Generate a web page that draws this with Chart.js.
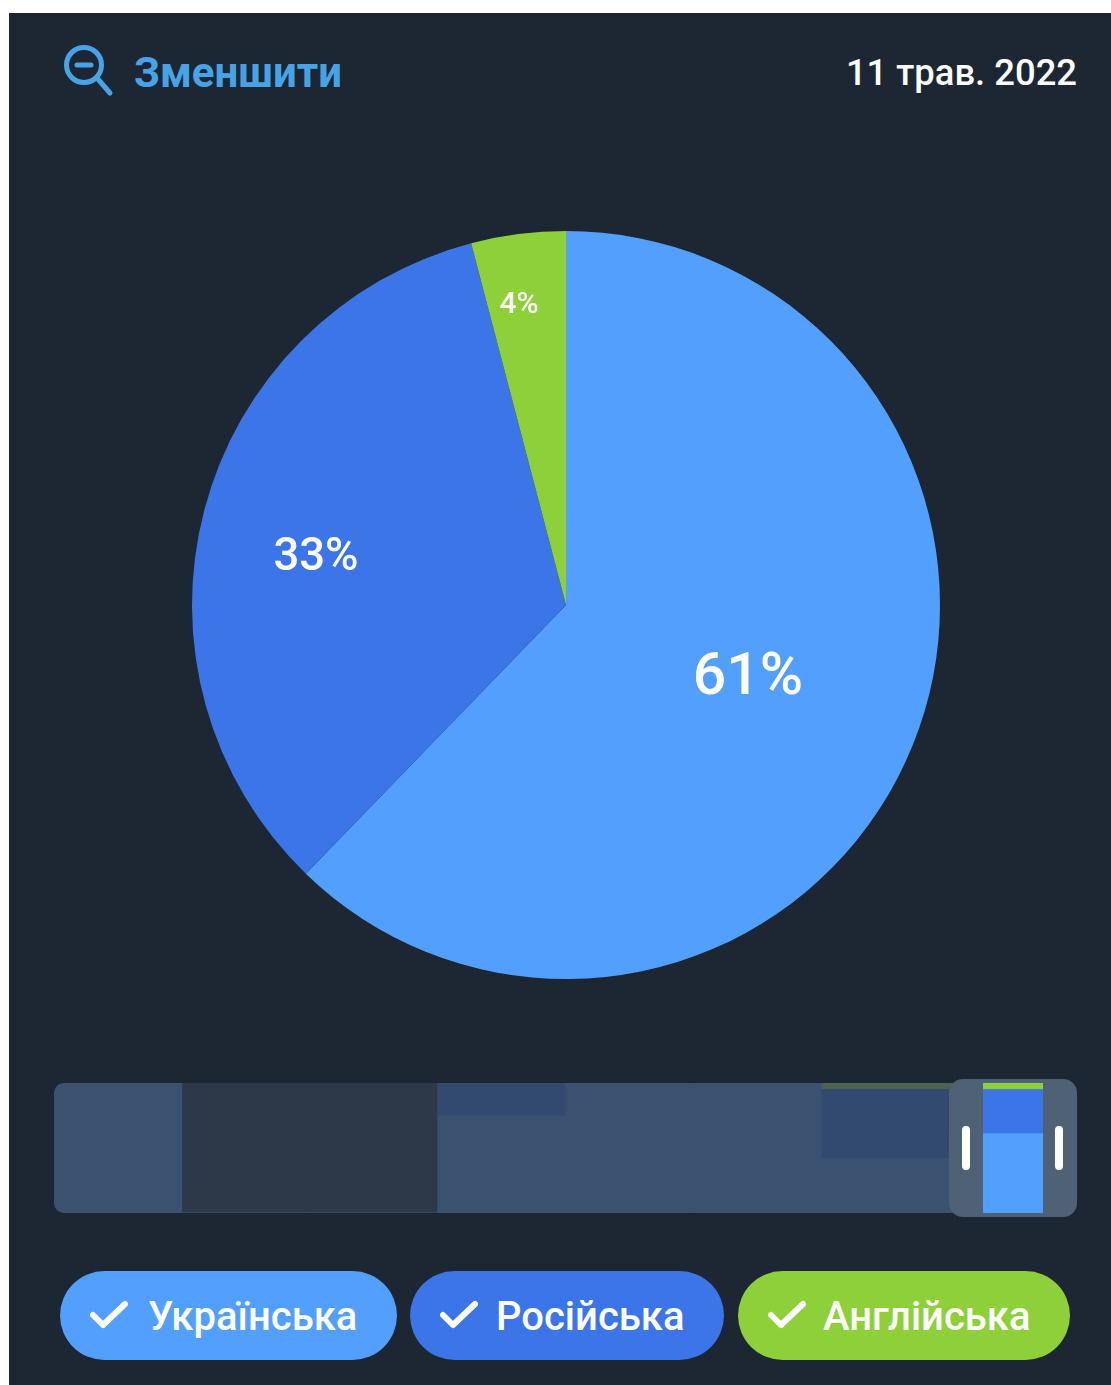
<!DOCTYPE html>
<html lang="uk">
<head>
<meta charset="utf-8">
<title>Мови</title>
<script src="https://cdn.jsdelivr.net/npm/chart.js@4"></script>
<style>
  html, body { margin: 0; padding: 0; background: #fff; }
  body { width: 1111px; height: 1385px; position: relative; overflow: hidden; font-family: Roboto, sans-serif; }
  #panel { position: absolute; left: 9px; top: 13px; width: 1102px; height: 1372px; background: #1d2733; }
  #zoomIcon { position: absolute; left: 62px; top: 43px; }
  #zoomText { position: absolute; left: 134px; top: 50px; font-size: 42px; line-height: 46px; font-weight: 700; color: #48a3e6; }
  #dateText { position: absolute; right: 34px; top: 51px; font-size: 36.4px; line-height: 44px; font-weight: 500; color: #fff; }
  #pie { position: absolute; left: 192px; top: 231px; }
  #track { position: absolute; left: 54px; top: 1083px; width: 1023px; height: 130px; background: #2d3848; border-radius: 10px; }
  #nav { position: absolute; left: 54px; top: 1083px; border-radius: 10px; }
  #selected { position: absolute; left: 983px; top: 1083px; }
  #window { position: absolute; left: 949px; top: 1079px; width: 128px; height: 138px; box-sizing: border-box;
            border: solid #4f6175; border-width: 4px 34px; border-radius: 14px; }
  .grip { position: absolute; top: 1126px; width: 8px; height: 44px; background: #fff; border-radius: 4px; }
  .chip { position: absolute; top: 1271px; height: 89px; border-radius: 45px; color: #fff; font-size: 40px; font-weight: 500; line-height: 91px; }
  .chip svg { position: absolute; left: 30px; top: 29px; }
  .chip span { position: absolute; white-space: nowrap; }
</style>
</head>
<body>
<div id="panel"></div>

<svg id="zoomIcon" width="54" height="56" viewBox="0 0 54 56" fill="none" stroke="#48a3e6" stroke-width="5" stroke-linecap="round">
  <circle cx="22" cy="22" r="17.5"/>
  <line x1="15" y1="22" x2="29" y2="22"/>
  <line x1="35" y1="35" x2="48" y2="50"/>
</svg>
<div id="zoomText">Зменшити</div>
<div id="dateText">11 трав. 2022</div>

<canvas id="pie" width="748" height="748"></canvas>

<div id="track"></div>
<canvas id="nav" width="1023" height="130"></canvas>
<canvas id="selected" width="60" height="130"></canvas>
<div id="window"></div>
<div class="grip" style="left:962px"></div>
<div class="grip" style="left:1055px"></div>

<div id="chips"></div>

<script>
// --- Datos ---
const categories = ["Українська", "Російська", "Англійська"];
const percents = [61, 33, 4];

const colors = ["#529ffd", "#3b75e8", "#8ed03a"];
const dimColors = ["#3a5270", "#324a70", "#4c6350"];

// Barras del navegador, un valor por periodo
const periods = ["p1", "p2", "p3", "p4", "p5", "p6", "p7", "p8"];
const navUkr = [100, 0, 0, 75, 100, 100, 42, 61];
const navRus = [0, 0, 0, 25, 0, 0, 53, 34];
const navEng = [0, 0, 0, 0, 0, 0, 5, 5];

// --- Etiquetas dentro del pie, desplazadas desde el centro ---
const sliceLabels = {
  id: "sliceLabels",
  afterDatasetsDraw(chart, args, opts) {
    const ctx = chart.ctx;
    const arcs = chart.getDatasetMeta(0).data;
    ctx.save();
    ctx.fillStyle = "#fff";
    ctx.textAlign = "center";
    ctx.textBaseline = "middle";
    arcs.forEach((arc, i) => {
      ctx.font = `500 ${opts.size[i]}px Roboto`;
      ctx.fillText(percents[i] + "%", arc.x + opts.offset[i][0], arc.y + opts.offset[i][1]);
    });
    ctx.restore();
  }
};

new Chart(document.getElementById("pie"), {
  type: "pie",
  data: {
    labels: categories,
    datasets: [{ data: percents, backgroundColor: colors, borderWidth: 0 }]
  },
  options: {
    responsive: false,
    animation: false,
    layout: { padding: 0 },
    plugins: {
      legend: { display: false },
      tooltip: { enabled: false },
      sliceLabels: { offset: [[182, 74], [-250, -46], [-47, -300]], size: [59, 45.5, 30] }
    }
  },
  plugins: [sliceLabels]
});

// --- Navegador inferior ---
function stackedBars(canvasId, labels, series, fills) {
  new Chart(document.getElementById(canvasId), {
    type: "bar",
    data: {
      labels: labels,
      datasets: series.map((data, i) => ({ label: categories[i], data: data, backgroundColor: fills[i] }))
    },
    options: {
      responsive: false,
      animation: false,
      layout: { padding: 0 },
      datasets: { bar: { barPercentage: 1, categoryPercentage: 1, borderWidth: 0 } },
      scales: {
        x: { display: false, stacked: true },
        y: { display: false, stacked: true, min: 0, max: 100 }
      },
      plugins: { legend: { display: false }, tooltip: { enabled: false } }
    }
  });
}

stackedBars("nav", periods, [navUkr, navRus, navEng], dimColors);

// El último periodo es el seleccionado, encima y con el color completo
const last = periods.length - 1;
stackedBars("selected", [periods[last]], [[navUkr[last]], [navRus[last]], [navEng[last]]], colors);

// --- Botones de la leyenda ---
const chipBoxes = [
  { left: 60, width: 337, text: 88 },
  { left: 410, width: 314, text: 86 },
  { left: 738, width: 332, text: 85 }
];

const chips = document.getElementById("chips");
categories.forEach((name, i) => {
  const box = chipBoxes[i];
  const chip = document.createElement("div");
  chip.className = "chip";
  chip.style.left = box.left + "px";
  chip.style.width = box.width + "px";
  chip.style.background = colors[i];
  chip.innerHTML =
    '<svg width="38" height="30" viewBox="0 0 38 30" fill="none" stroke="#fff" stroke-width="6" stroke-linecap="round" stroke-linejoin="round">' +
    '<polyline points="3,15 13,25 35,4"/></svg>' +
    `<span style="left:${box.text}px">${name}</span>`;
  chips.appendChild(chip);
});
</script>
</body>
</html>
